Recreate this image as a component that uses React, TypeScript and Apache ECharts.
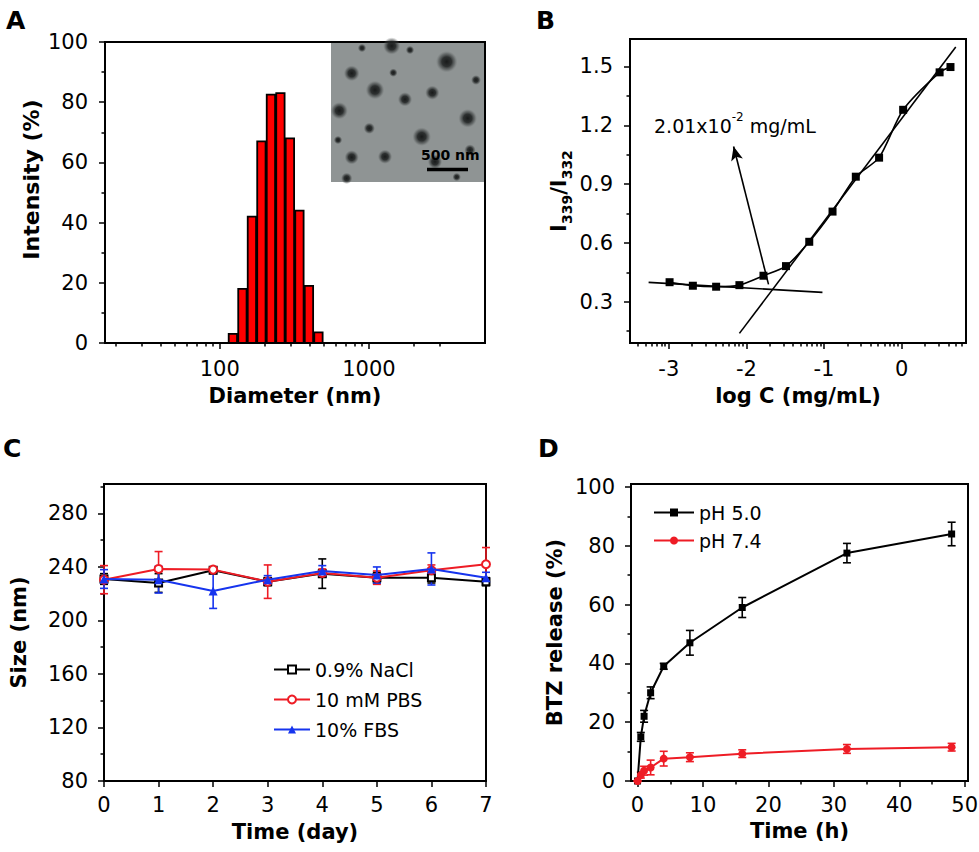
import React, { useEffect, useRef } from 'react';
import * as echarts from 'echarts';

const FONT = "'DejaVu Sans', sans-serif";

// ---------- Panel A: DLS size distribution ----------
const diametersNm = [122.4, 141.8, 164.2, 190.1, 220.2, 255.0, 295.3, 342.0, 396.1, 458.7];
const intensityPct = [3, 18, 42, 67, 82.5, 83, 68, 44, 19, 3.5];
const diameterRange = [17, 6000];
const diameterMajorTicks = [100, 1000];
const diameterMinorTicks = [20, 30, 40, 50, 60, 70, 80, 90, 200, 300, 400, 500, 600, 700, 800, 900, 2000, 3000];
const intensityTicks = [0, 20, 40, 60, 80, 100];
const intensityMinorTicks = [10, 30, 50, 70, 90];

// ---------- Panel B: CMC ----------
const logConc = [-2.99, -2.69, -2.39, -2.09, -1.78, -1.49, -1.19, -0.89, -0.59, -0.29, 0.02, 0.49, 0.63];
const ratioI339I332 = [0.4, 0.382, 0.377, 0.385, 0.433, 0.482, 0.606, 0.76, 0.938, 1.035, 1.279, 1.47, 1.497];
const lowFitLine = [[-3.26, 0.399], [-1.02, 0.348]];
const highFitLine = [[-2.09, 0.139], [0.698, 1.599]];
const cmcArrow = [[-1.715, 0.389], [-2.165, 1.092]];
const logCRange = [-3.5, 0.83];
const logCMajorTicks = [-3, -2, -1, 0];
const logCMinorMultipliers = [2, 3, 4, 5, 6, 7, 8, 9];
const logCDecades = [-4, -3, -2, -1, 0];
const ratioRange = [0.09, 1.64];
const ratioTicks = [0.3, 0.6, 0.9, 1.2, 1.5];
const ratioMinorTicks = [0.15, 0.45, 0.75, 1.05, 1.35];

// ---------- Panel C: stability ----------
const days = [0, 1, 2, 3, 4, 5, 6, 7];
const naclSize = [231, 228, 237.5, 229, 235, 232, 232, 229];
const naclErr = [4, 7, 2, 3, 11, 4, 4, 3];
const pbsSize = [230.5, 238.5, 238, 229, 235.5, 232, 237.5, 242];
const pbsErr = [10.5, 13, 2, 12.5, 3, 5, 4, 12.5];
const fbsSize = [231, 230.5, 222, 230.5, 237, 234, 238.5, 232];
const fbsErr = [7, 10, 13, 3, 4, 6, 12, 4];
const sizeTicks = [80, 120, 160, 200, 240, 280];
const sizeMinorTicks = [100, 140, 180, 220, 260, 300];

// ---------- Panel D: release ----------
const hours = [0, 0.5, 1, 2, 4, 8, 16, 32, 48];
const ph50Release = [0, 15, 22, 30, 39, 47, 59, 77.5, 84];
const ph50Err = [0, 1.5, 2, 2, 1, 4.2, 3.4, 3.3, 4];
const ph74Release = [0, 2, 3.5, 4.6, 7.6, 8.1, 9.3, 10.9, 11.5];
const ph74Err = [0, 1, 1.5, 2.5, 2.5, 1.5, 1.3, 1.5, 1.3];
const hourTicks = [0, 10, 20, 30, 40, 50];
const hourMinorTicks = [5, 15, 25, 35, 45];
const releaseTicks = [0, 20, 40, 60, 80, 100];
const releaseMinorTicks = [10, 30, 50, 70, 90];

const RED = '#ee1c25';
const BLUE = '#1634ee';

const labelStyle = { color: '#000', fontSize: 21, fontFamily: FONT };
const nameStyle = { color: '#000', fontSize: 21, fontWeight: 'bold', fontFamily: FONT };

function mainAxis(o: any) {
  return {
    type: 'value',
    gridIndex: o.grid,
    position: o.position,
    min: o.min,
    max: o.max,
    axisLine: { show: true, onZero: false, lineStyle: { color: '#000', width: 2 } },
    splitLine: { show: false },
    axisTick: { show: true, length: 6, lineStyle: { color: '#000', width: 1.5 }, customValues: o.ticks },
    axisLabel: { ...labelStyle, margin: o.margin, customValues: o.ticks, formatter: o.fmt },
    name: o.name,
    nameLocation: 'middle',
    nameGap: o.nameGap,
    nameTextStyle: { ...nameStyle, ...(o.nameExtra || {}) },
  };
}

function minorAxis(grid: number, position: string, min: number, max: number, ticks: number[] | null) {
  return {
    type: 'value',
    gridIndex: grid,
    position,
    min,
    max,
    axisLine: { show: false, onZero: false },
    splitLine: { show: false },
    axisLabel: { show: false },
    axisTick: ticks
      ? { show: true, length: 3.5, lineStyle: { color: '#000', width: 1.5 }, customValues: ticks }
      : { show: false },
  };
}

function errorBars(name: string, xs: number[], ys: number[], errs: number[], color: string, axis: number) {
  return {
    type: 'custom',
    name,
    xAxisIndex: axis,
    yAxisIndex: axis,
    silent: true,
    z: 1,
    data: xs.map((x, i) => [x, ys[i], errs[i]]),
    renderItem: (_p: any, api: any) => {
      const x = api.value(0);
      const y = api.value(1);
      const e = api.value(2);
      const top = api.coord([x, y + e]);
      const bot = api.coord([x, y - e]);
      const hw = 4;
      const st = { stroke: color, lineWidth: 1.6 };
      return {
        type: 'group',
        children: [
          { type: 'line', shape: { x1: top[0], y1: top[1], x2: bot[0], y2: bot[1] }, style: st },
          { type: 'line', shape: { x1: top[0] - hw, y1: top[1], x2: top[0] + hw, y2: top[1] }, style: st },
          { type: 'line', shape: { x1: bot[0] - hw, y1: bot[1], x2: bot[0] + hw, y2: bot[1] }, style: st },
        ],
      };
    },
  };
}

// TEM inset decoration: dark particles [x, y, radius] in page pixels
const blobs = [
  [391.7, 46, 6], [446.7, 61.7, 7.5], [351.7, 73.3, 5.5], [393.3, 72.7, 3], [375, 90, 6.5],
  [405, 99.3, 5], [432.3, 92.7, 5], [339.3, 110.7, 6], [467.7, 118.3, 6.5], [369.3, 128.3, 4],
  [421.7, 136.7, 6.5], [351.7, 157.3, 5], [385, 156.7, 5], [435, 161.7, 5], [410, 50, 3],
  [470, 150, 4], [346.7, 178.3, 4], [456.7, 177, 3], [362, 48, 3], [476, 80, 3.5], [338, 140, 3],
];

function buildOption() {
  const log10 = (v: number) => Math.log10(v);
  const BAR_HALF = 0.028;
  const logCMinor = logCDecades
    .flatMap((n) => logCMinorMultipliers.map((k) => n + Math.log10(k)))
    .filter((v) => v > logCRange[0] && v < logCRange[1]);

  const grids = [
    { left: 105, top: 42, width: 380, height: 301 },
    { left: 630, top: 39, width: 336, height: 304 },
    { left: 104, top: 484, width: 382, height: 297 },
    { left: 631, top: 484, width: 337, height: 297 },
  ].map((g) => ({ ...g, show: true, borderColor: '#000', borderWidth: 2, backgroundColor: 'transparent', containLabel: false, outerBoundsMode: 'none' }));

  const xAxis = [
    mainAxis({
      grid: 0, position: 'bottom', min: log10(diameterRange[0]), max: log10(diameterRange[1]),
      ticks: diameterMajorTicks.map(log10), margin: 15,
      fmt: (v: number) => String(Math.round(Math.pow(10, v))),
      name: 'Diameter (nm)', nameGap: 42,
    }),
    minorAxis(0, 'bottom', log10(diameterRange[0]), log10(diameterRange[1]), diameterMinorTicks.map(log10)),
    mainAxis({
      grid: 1, position: 'bottom', min: logCRange[0], max: logCRange[1],
      ticks: logCMajorTicks, margin: 15, fmt: (v: number) => String(v),
      name: 'log C (mg/mL)', nameGap: 42,
    }),
    minorAxis(1, 'bottom', logCRange[0], logCRange[1], logCMinor),
    mainAxis({
      grid: 2, position: 'bottom', min: 0, max: 7,
      ticks: days, margin: 13, fmt: (v: number) => String(v),
      name: 'Time (day)', nameGap: 40,
    }),
    minorAxis(2, 'bottom', 0, 7, null),
    mainAxis({
      grid: 3, position: 'bottom', min: -1, max: 50.5,
      ticks: hourTicks, margin: 13, fmt: (v: number) => String(v),
      name: 'Time (h)', nameGap: 39,
    }),
    minorAxis(3, 'bottom', -1, 50.5, hourMinorTicks),
  ];

  const yAxis = [
    mainAxis({
      grid: 0, position: 'left', min: 0, max: 100, ticks: intensityTicks, margin: 17,
      fmt: (v: number) => String(v), name: 'Intensity (%)', nameGap: 63,
      nameExtra: { fontSize: 22, padding: [0, 0, 0, 26] },
    }),
    minorAxis(0, 'left', 0, 100, intensityMinorTicks),
    mainAxis({
      grid: 1, position: 'left', min: ratioRange[0], max: ratioRange[1], ticks: ratioTicks, margin: 17,
      fmt: (v: number) => v.toFixed(1),
      name: '{i|I}{s|339}{i|/I}{s|332}', nameGap: 60,
      nameExtra: {
        rich: {
          i: { fontSize: 21, fontWeight: 'bold', fontFamily: FONT, color: '#000', lineHeight: 22, verticalAlign: 'top' },
          s: { fontSize: 14, fontWeight: 'bold', fontFamily: FONT, color: '#000', lineHeight: 14, verticalAlign: 'top', padding: [12, 0, 0, 0] },
        },
      },
    }),
    minorAxis(1, 'left', ratioRange[0], ratioRange[1], ratioMinorTicks),
    mainAxis({
      grid: 2, position: 'left', min: 80, max: 302, ticks: sizeTicks, margin: 16,
      fmt: (v: number) => String(v), name: 'Size (nm)', nameGap: 75,
    }),
    minorAxis(2, 'left', 80, 302, sizeMinorTicks),
    mainAxis({
      grid: 3, position: 'left', min: 0, max: 101, ticks: releaseTicks, margin: 16,
      fmt: (v: number) => String(v), name: 'BTZ release (%)', nameGap: 66,
    }),
    minorAxis(3, 'left', 0, 101, releaseMinorTicks),
  ];

  const series: any[] = [
    {
      type: 'custom',
      name: 'Intensity',
      xAxisIndex: 0,
      yAxisIndex: 0,
      data: diametersNm.map((d, i) => [log10(d), intensityPct[i]]),
      renderItem: (_p: any, api: any) => {
        const c = api.value(0);
        const v = api.value(1);
        const p0 = api.coord([c - BAR_HALF, v]);
        const p1 = api.coord([c + BAR_HALF, 0]);
        return {
          type: 'rect',
          shape: { x: p0[0], y: p0[1], width: p1[0] - p0[0], height: p1[1] - p0[1] },
          style: { fill: '#ff0000', stroke: '#000', lineWidth: 1.8 },
        };
      },
    },
    {
      type: 'line',
      name: 'I339/I332',
      xAxisIndex: 2,
      yAxisIndex: 2,
      data: logConc.map((x, i) => [x, ratioI339I332[i]]),
      smooth: 0.25,
      symbol: 'rect',
      symbolSize: 8,
      itemStyle: { color: '#000' },
      lineStyle: { color: '#000', width: 1.6 },
      z: 3,
      markLine: {
        silent: true,
        symbol: ['none', 'none'],
        label: { show: false },
        emphasis: { disabled: true },
        lineStyle: { color: '#000', width: 1.6, type: 'solid' },
        data: [
          [{ coord: lowFitLine[0] }, { coord: lowFitLine[1] }],
          [{ coord: highFitLine[0] }, { coord: highFitLine[1] }],
          [
            { coord: cmcArrow[0], symbol: 'none' },
            { coord: cmcArrow[1], symbol: 'arrow', symbolSize: [9, 14] },
          ],
        ],
      },
    },
    errorBars('NaCl error', days, naclSize, naclErr, '#000', 4),
    errorBars('PBS error', days, pbsSize, pbsErr, RED, 4),
    errorBars('FBS error', days, fbsSize, fbsErr, BLUE, 4),
    {
      type: 'line', name: '0.9% NaCl', xAxisIndex: 4, yAxisIndex: 4,
      data: days.map((d, i) => [d, naclSize[i]]),
      symbol: 'emptyRect', symbolSize: 7,
      itemStyle: { color: '#000', borderWidth: 1.6 },
      lineStyle: { color: '#000', width: 2 }, z: 3,
    },
    {
      type: 'line', name: '10 mM PBS', xAxisIndex: 4, yAxisIndex: 4,
      data: days.map((d, i) => [d, pbsSize[i]]),
      symbol: 'emptyCircle', symbolSize: 8,
      itemStyle: { color: RED, borderWidth: 1.6 },
      lineStyle: { color: RED, width: 2 }, z: 4,
    },
    {
      type: 'line', name: '10% FBS', xAxisIndex: 4, yAxisIndex: 4,
      data: days.map((d, i) => [d, fbsSize[i]]),
      symbol: 'triangle', symbolSize: 9,
      itemStyle: { color: BLUE },
      lineStyle: { color: BLUE, width: 2 }, z: 5,
    },
    errorBars('pH 5.0 error', hours, ph50Release, ph50Err, '#000', 6),
    errorBars('pH 7.4 error', hours, ph74Release, ph74Err, RED, 6),
    {
      type: 'line', name: 'pH 5.0', xAxisIndex: 6, yAxisIndex: 6,
      data: hours.map((h, i) => [h, ph50Release[i]]),
      symbol: 'rect', symbolSize: 7,
      itemStyle: { color: '#000' },
      lineStyle: { color: '#000', width: 2 }, z: 3,
    },
    {
      type: 'line', name: 'pH 7.4', xAxisIndex: 6, yAxisIndex: 6,
      data: hours.map((h, i) => [h, ph74Release[i]]),
      symbol: 'circle', symbolSize: 8,
      itemStyle: { color: RED },
      lineStyle: { color: RED, width: 2 }, z: 3,
    },
  ];

  const legendText = { fontSize: 19, fontFamily: FONT, color: '#000' };
  const legend = [
    {
      orient: 'vertical', left: 268, top: 655, itemWidth: 36, itemHeight: 10, itemGap: 11,
      data: ['0.9% NaCl', '10 mM PBS', '10% FBS'], textStyle: legendText, selectedMode: false,
    },
    {
      orient: 'vertical', left: 648, top: 498, itemWidth: 40, itemHeight: 10, itemGap: 9,
      data: ['pH 5.0', 'pH 7.4'], textStyle: legendText, selectedMode: false,
    },
  ];

  const panelLetter = (t: string, x: number, y: number) => ({
    type: 'text', left: x, top: y, z: 20,
    style: { text: t, fontSize: 25, fontWeight: 'bold', fontFamily: FONT, fill: '#000' },
  });

  const graphic: any[] = [
    panelLetter('A', 6, 8),
    panelLetter('B', 536, 8),
    panelLetter('C', 3, 436),
    panelLetter('D', 538, 436),
    {
      type: 'rect', z: 5, silent: true,
      shape: { x: 331, y: 43, width: 153, height: 139 },
      style: { fill: '#8f9494' },
    },
    ...blobs.map((b) => ({
      type: 'circle', z: 6, silent: true,
      shape: { cx: b[0], cy: b[1], r: b[2] * 1.45 },
      style: {
        fill: {
          type: 'radial', x: 0.5, y: 0.5, r: 0.5,
          colorStops: [
            { offset: 0, color: 'rgba(18,20,20,0.95)' },
            { offset: 0.45, color: 'rgba(32,35,35,0.88)' },
            { offset: 0.75, color: 'rgba(60,64,64,0.45)' },
            { offset: 1, color: 'rgba(110,114,114,0)' },
          ],
        },
      },
    })),
    {
      type: 'line', z: 7, silent: true,
      shape: { x1: 427, y1: 169.5, x2: 468, y2: 169.5 },
      style: { stroke: '#000', lineWidth: 3.5 },
    },
    {
      type: 'text', z: 7, silent: true, left: 421, top: 148,
      style: { text: '500 nm', fontSize: 14, fontWeight: 'bold', fontFamily: FONT, fill: '#000' },
    },
    {
      type: 'text', z: 7, silent: true, left: 654, top: 111,
      style: {
        text: '{n|2.01x10}{s|-2}{n| mg/mL}',
        fill: '#000',
        rich: {
          n: { fontSize: 19, fontFamily: FONT, color: '#000', lineHeight: 24, verticalAlign: 'bottom' },
          s: { fontSize: 12, fontFamily: FONT, color: '#000', lineHeight: 12, verticalAlign: 'top' },
        },
      },
    },
  ];

  return {
    animation: false,
    backgroundColor: '#fff',
    grid: grids,
    xAxis,
    yAxis,
    series,
    legend,
    graphic,
  };
}

export default function App() {
  const ref = useRef<HTMLDivElement>(null);
  useEffect(() => {
    if (!ref.current) return;
    const chart = echarts.init(ref.current, null, { renderer: 'svg', width: 979, height: 852 });
    chart.setOption(buildOption() as any);
    return () => chart.dispose();
  }, []);
  return (
    <div
      ref={ref}
      style={{ position: 'fixed', left: 0, top: 0, width: 979, height: 852, background: '#fff' }}
    />
  );
}
